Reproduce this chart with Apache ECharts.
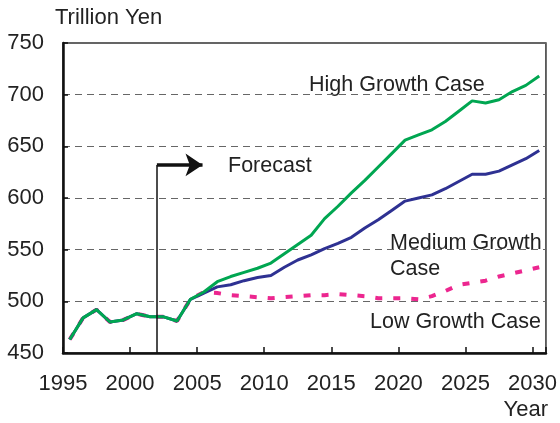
<!DOCTYPE html>
<html>
<head>
<meta charset="utf-8">
<script src="https://cdn.jsdelivr.net/npm/echarts@6/dist/echarts.min.js"></script>
<style>
  html, body { margin: 0; padding: 0; background: #fff; }
  #gdp { width: 560px; height: 423px; }
</style>
</head>
<body>
<div id="gdp"></div>
<script>
  // fiscal years, plotted at mid-year
  var years = [];
  for (var y = 1995; y <= 2030; y++) years.push(y);
  var yearOffset = 0.5;

  // actual values 1995-2003 (shared by all cases)
  var actualValues = [463, 484, 492, 480, 482, 488, 485, 485, 481];
  // 2004-2030
  var highGrowth = [502, 509, 519, 524, 528, 532, 537, 546, 555, 564, 580, 592, 605, 617, 630, 643, 656, 661, 666, 674, 684, 694, 692, 695, 703, 709, 718];
  var mediumGrowth = [502, 508, 514, 516, 520, 523, 525, 533, 540, 545, 551, 556, 562, 571, 579, 588, 597, 600, 603, 609, 616, 623, 623, 626, 632, 638, 646];
  var lowGrowth = [502, 509, 508, 506, 505, 504, 503, 504, 505, 506, 506, 507, 506, 505, 503, 503, 503, 502, 505, 510, 516, 518, 520, 524, 527, 530, 533];

  var yTicks = [450, 500, 550, 600, 650, 700, 750];
  var forecastYear = 2002;
  var forecastLevel = 632;
  var arrowEnd = 2005.4;

  function toPoints(vals) {
    return years.map(function (yr, i) { return [yr + yearOffset, vals[i]]; });
  }

  var font = "'Liberation Sans', Arial, sans-serif";
  var noteFont = "21.5px " + font;
  var chart = echarts.init(document.getElementById("gdp"));
  chart.setOption({
    animation: false,
    grid: {
      left: 63, right: 12, top: 43, bottom: 70,
      show: true, borderColor: "#333", borderWidth: 1.5
    },
    xAxis: {
      type: "value",
      min: 1995,
      max: 2031,
      interval: 5,
      axisLine: { lineStyle: { color: "#111", width: 2.5 } },
      axisTick: { inside: true, length: 6, lineStyle: { color: "#111", width: 1.5 } },
      axisLabel: {
        margin: 20, color: "#222", fontSize: 22, fontFamily: font,
        formatter: function (v) { return v % 5 === 0 ? String(v) : ""; }
      },
      splitLine: { show: false }
    },
    yAxis: {
      type: "value",
      min: yTicks[0],
      max: yTicks[yTicks.length - 1],
      interval: 50,
      axisLine: { lineStyle: { color: "#111", width: 2.5 } },
      axisTick: { inside: true, length: 5, lineStyle: { color: "#111", width: 1.5 } },
      axisLabel: { margin: 19, color: "#222", fontSize: 22, fontFamily: font },
      splitLine: { lineStyle: { color: "#666", width: 1.2, type: [7, 5] } }
    },
    series: [
      {
        name: "Low Growth Case",
        type: "line",
        symbol: "none",
        data: toPoints(actualValues.concat(lowGrowth)),
        lineStyle: { color: "#ec268f", width: 4, type: [7, 11] },
        z: 2
      },
      {
        name: "Medium Growth Case",
        type: "line",
        symbol: "none",
        data: toPoints(actualValues.concat(mediumGrowth)),
        lineStyle: { color: "#2e3192", width: 3 },
        z: 3
      },
      {
        name: "High Growth Case",
        type: "line",
        symbol: "none",
        data: toPoints(actualValues.concat(highGrowth)),
        lineStyle: { color: "#00a651", width: 3 },
        z: 4
      },
      {
        type: "lines",
        coordinateSystem: "cartesian2d",
        symbol: "none",
        lineStyle: { color: "#111", width: 1.5, opacity: 1 },
        data: [{ coords: [[forecastYear, yTicks[0]], [forecastYear, forecastLevel]] }],
        z: 5
      },
      {
        type: "lines",
        coordinateSystem: "cartesian2d",
        symbol: ["none", "arrow"],
        symbolSize: 17,
        lineStyle: { color: "#111", width: 3.5, opacity: 1 },
        data: [{ coords: [[forecastYear, forecastLevel], [arrowEnd, forecastLevel]] }],
        z: 5
      }
    ],
    graphic: [
      { type: "text", left: 55, top: 7, style: { text: "Trillion Yen", fill: "#222", font: "22px " + font } },
      { type: "text", right: 12, top: 399, style: { text: "Year", fill: "#222", font: "22px " + font } },
      { type: "text", left: 228, top: 155, style: { text: "Forecast", fill: "#222", font: noteFont } },
      { type: "text", left: 309, top: 74, style: { text: "High Growth Case", fill: "#222", font: noteFont } },
      { type: "text", left: 390, top: 230, style: { text: "Medium Growth\nCase", fill: "#222", font: noteFont, lineHeight: 26 } },
      { type: "text", left: 370, top: 311, style: { text: "Low Growth Case", fill: "#222", font: noteFont } }
    ]
  });
</script>
</body>
</html>
